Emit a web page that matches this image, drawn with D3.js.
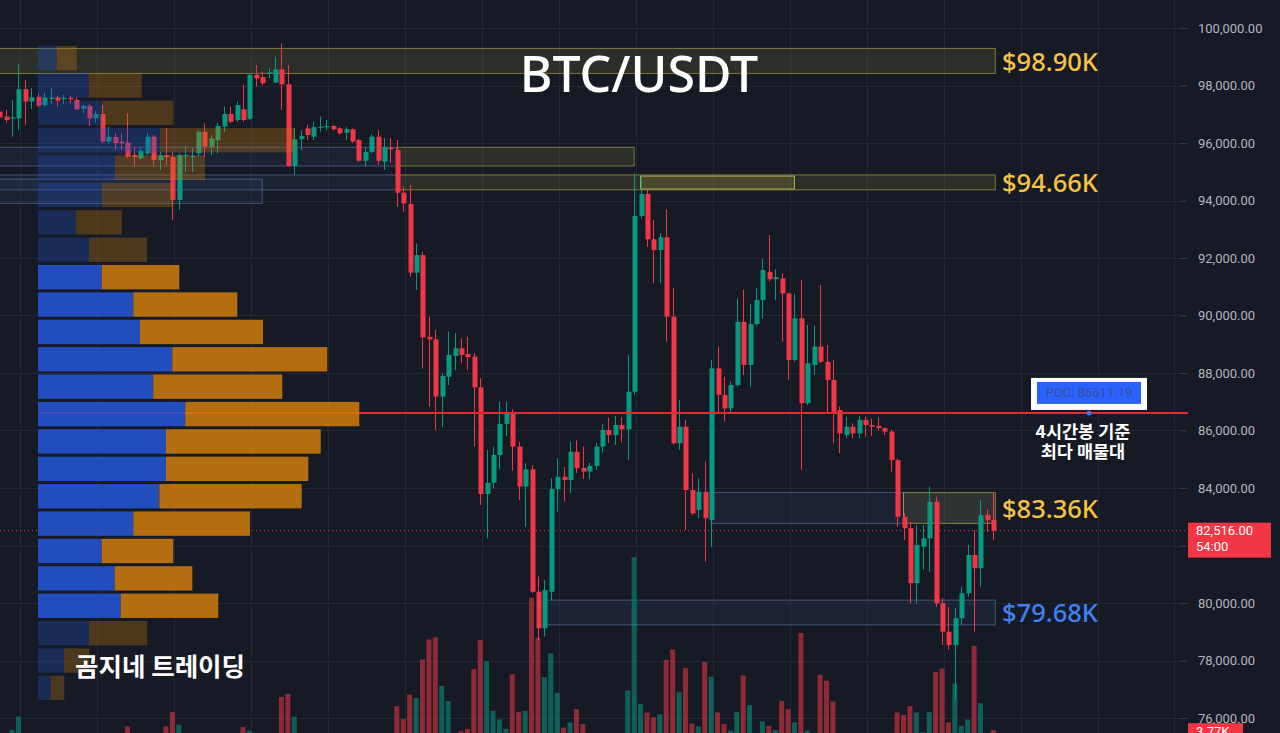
<!DOCTYPE html>
<html><head><meta charset="utf-8">
<script src="https://cdn.jsdelivr.net/npm/d3@7"></script>
<style>html,body{margin:0;padding:0;background:#161a25;overflow:hidden}</style>
</head><body><svg id="c" width="1280" height="733"></svg>
<script>
// ---------- DATA ----------
const opens=[97090,96920,96860,96860,97870,97440,97610,97320,97530,97590,97520,97570,97500,97190,97290,96860,97010,96050,96210,96050,96010,95580,95470,95640,96220,95410,95580,95510,94020,95550,95510,95640,96390,95870,96100,96570,97010,96800,97170,96840,98370,98290,98440,98100,98560,98040,95200,96130,96510,96220,96550,96570,96590,96510,96360,96480,96100,95380,95690,96220,95350,95840,95760,94270,93880,91490,92100,89260,89170,87180,87870,88590,88860,88660,88570,87500,83790,84180,85150,86230,86620,85440,84050,84650,80390,79120,80390,83960,84390,84280,85260,84700,84570,84770,85440,86020,85840,86190,86040,87350,93460,94230,92650,92280,92720,89960,85560,86130,83930,83240,83870,82890,88160,87240,86770,87580,89780,88280,89700,90540,91520,91260,91290,90770,88450,89900,86950,88280,88920,88390,87760,86710,85840,86130,85900,86370,86190,86160,86080,85960,84970,83000,82600,80690,81960,82250,83520,79990,79000,78540,79470,80340,81670,81210,83060,82890];
const highs=[97220,97150,97500,98750,98190,97910,97740,97740,97910,97640,97670,97640,97590,97320,97360,97120,97320,96570,96340,96340,97030,95870,95870,96340,96280,95700,96510,95700,95640,95900,95820,96450,96690,96280,96690,97260,97260,97440,98020,98420,98710,98480,98600,99000,99470,98710,96510,96450,96630,96740,96920,96800,96630,96550,96550,96510,96160,95870,96300,96450,96170,96170,96100,94480,94540,92510,92220,89960,89500,87990,89440,89380,89210,89260,88690,87820,85320,85440,87000,87000,86740,85610,84860,84800,80920,80800,84350,85040,84730,85610,85670,85440,84870,85570,86220,86440,86500,86460,88630,94950,94830,94370,93320,92860,93690,90950,87060,86370,84510,84340,84920,88450,88920,87870,87700,90600,90890,90400,90950,91960,92800,91610,91470,90790,90750,91240,89670,89640,91060,88970,88450,86830,86480,86250,86500,86480,86420,86460,86110,86020,85030,83120,82830,82710,82710,84050,83700,80170,79870,79830,80570,82020,82540,83580,83240,83820];
const lows=[96800,96710,96220,96450,96630,97180,97250,97250,97360,97260,97360,97380,97150,97050,96590,96710,95990,95990,95760,95760,95470,95180,95410,95580,95180,95060,95240,93320,93670,95000,95000,95520,95520,95580,95640,96390,96690,96740,96740,96800,97960,98020,98250,98080,97150,95180,94890,95760,96100,96100,96390,96450,96430,96280,96100,96010,95350,95180,95640,95240,95060,95300,93780,93610,91350,90890,88160,86830,86020,86130,87580,88100,88340,88100,85440,83410,82250,83990,84650,85810,84600,83580,82650,80350,78710,78830,80100,83180,83520,83830,84520,84310,84310,84630,85230,85570,85500,85580,84970,87240,93380,92390,91120,91120,89090,85500,85320,82540,83060,82950,81440,81960,86600,86310,86650,87520,87930,87520,89640,89900,91180,90540,89090,87760,88390,84630,86890,87930,88340,86600,85560,85210,85730,85730,85730,85780,85810,85990,85840,84570,82650,82190,79990,79990,81150,81090,79870,78540,78370,76630,79240,80220,79000,80570,82480,82190];
const closes=[96890,96800,96890,97870,97440,97590,97300,97580,97580,97470,97570,97520,97170,97290,96860,97010,96050,96210,95990,95990,95520,95510,95730,96220,95410,95580,95510,94020,95580,95580,95550,96390,95870,96160,96590,97010,96740,97320,96800,98370,98250,98080,98460,98560,98040,95200,96130,96240,96280,96550,96570,96590,96480,96340,96480,96050,95380,95690,96220,95380,95870,95780,94270,93900,91490,92100,89240,89170,87180,87900,88630,88860,88630,88550,87500,83790,84180,85150,86230,86620,85440,84050,84650,80390,79120,80450,83960,84390,84280,85260,84690,84570,84770,85440,86020,85840,86190,86040,87350,93460,94230,92650,92280,92720,89960,85560,86130,83930,83120,83870,82950,88160,87240,86770,87580,89780,88280,89700,90540,91580,91260,91330,90770,88450,89900,86950,88340,88920,88390,87760,86650,85900,86130,85900,86370,86190,86130,86080,85960,84970,83000,82600,80690,82020,82250,83520,79990,79000,78540,79470,80340,81670,81210,83060,82890,82516];
// volume in K BTC
const volumes=[2.8,2.6,3.8,6.1,3.1,2.4,2.3,2.2,2.5,2.1,2.0,2.2,2.6,2.3,3.0,2.5,3.2,2.6,2.8,2.5,4.4,3.0,2.7,3.1,3.2,2.9,4.4,6.9,4.7,2.8,2.6,3.0,3.1,2.7,2.9,3.2,2.6,3.0,4.3,3.7,3.0,2.7,2.5,3.2,9.5,10.0,6.1,3.2,2.8,2.6,2.4,2.2,2.1,2.3,2.2,2.8,3.2,3.0,2.9,3.2,3.0,2.6,7.9,5.7,9.9,9.3,16.0,19.4,19.8,11.4,8.8,3.0,3.6,4.0,14.3,19.3,15.7,7.1,5.6,4.0,13.4,6.9,7.1,26.6,19.7,12.9,17.0,10.2,4.2,5.1,7.4,4.8,3.1,2.9,3.2,2.8,3.0,2.6,10.6,33.6,8.3,6.8,6.0,6.5,15.9,17.7,10.3,14.5,4.9,4.4,15.5,13.0,6.8,4.8,3.7,6.9,13.2,8.1,3.2,5.3,4.5,3.8,8.8,7.4,5.1,20.5,3.7,3.3,13.3,12.3,8.7,3.2,2.6,2.4,2.7,2.3,2.1,2.2,2.5,3.3,6.8,6.4,7.9,6.8,3.4,6.9,13.8,14.4,5.1,11.8,4.5,5.6,18.3,8.4,3.0,3.77];
// volume profile rows, from the top (highest price) down
const vpBuy=[1.87,5.07,6.37,12.2,7.7,6.37,3.8,5.1,6.37,9.53,10.2,13.43,11.53,14.73,12.8,12.8,12.13,9.53,6.37,7.67,8.27,5.1,2.6,1.27];
const vpSell=[2.0,5.3,7.16,13.5,9.0,7.16,4.6,5.8,7.76,10.4,12.3,15.5,12.9,17.4,15.47,14.23,14.24,11.67,7.16,7.76,9.76,5.83,2.53,1.36];
const vpTop=99430, vpBottom=76570, vaFirst=8, vaLast=20;
const pocPrice=86611.19;
const lastPrice=82516;
const priceTicks=[76000,78000,80000,82000,84000,86000,88000,90000,92000,94000,96000,98000,100000];
// zones: candle index range and price range
const zoneFrom=[-1,-1,62,-1,62,-1,100,111,141,85];
const zoneTo=[155,62,99,62,155,41,124,141,155,155];
const zoneHi=[99290,95850,95850,94890,94890,94740,94850,83840,83840,80100];
const zoneLo=[98420,95200,95200,94370,94370,93900,94400,82770,82770,79240];
const zoneKind=["y","b","y","b","y","b","y2","b","g","b"];
const levelLabels=["$98.90K","$94.66K","$83.36K","$79.68K"];
const levelPrices=[98855,94630,83305,79670];
const levelKinds=["y","y","y","b"];

// ---------- CHART ----------
const W=1280,H=733,plotRight=1188;
const svg=d3.select('#c');
svg.append('rect').attr('width',W).attr('height',H).attr('fill','#161a25');
const y=d3.scaleLinear().domain([76000,100000]).range([718,28]);
const x=d3.scaleLinear().domain([0,155]).range([-0.8,993.3]);
const yVol=d3.scaleLinear().domain([0,40]).range([752,520]);
const green='#089981', red='#f23645';

// grid
const grid=svg.append('g');
grid.selectAll('line.h').data(priceTicks).join('line')
  .attr('x1',0).attr('x2',plotRight).attr('y1',d=>Math.round(y(d))+0.5).attr('y2',d=>Math.round(y(d))+0.5)
  .attr('stroke','#232734').attr('stroke-width',1);
grid.selectAll('line.v').data(d3.range(3.25,185,12)).join('line')
  .attr('y1',0).attr('y2',H).attr('x1',d=>Math.round(x(d))+0.5).attr('x2',d=>Math.round(x(d))+0.5)
  .attr('stroke','#232734').attr('stroke-width',1);

// zones
const zoneStyle={
  y:{fill:'rgba(190,185,70,0.13)',stroke:'rgba(200,190,80,0.55)'},
  y2:{fill:'rgba(200,190,60,0.18)',stroke:'rgba(220,205,80,0.75)'},
  b:{fill:'rgba(70,110,180,0.10)',stroke:'rgba(120,150,200,0.45)'},
  g:{fill:'rgba(110,110,90,0.30)',stroke:'rgba(200,190,80,0.6)'}
};
const zones=zoneFrom.map((f,k)=>({f,t:zoneTo[k],hi:zoneHi[k],lo:zoneLo[k],kind:zoneKind[k]}));
svg.append('g').selectAll('rect').data(zones).join('rect')
  .attr('x',d=>d.f<0?-2:x(d.f)).attr('width',d=>x(d.t)+(d.t===155?2:0)-(d.f<0?-2:x(d.f)))
  .attr('y',d=>y(d.hi)).attr('height',d=>y(d.lo)-y(d.hi))
  .attr('fill',d=>zoneStyle[d.kind].fill).attr('stroke',d=>zoneStyle[d.kind].stroke).attr('stroke-width',1);

// volume bars
const data=opens.map((o,i)=>({i,o,h:highs[i],l:lows[i],c:closes[i],v:volumes[i]}));
svg.append('g').selectAll('rect').data(data).join('rect')
  .attr('x',d=>x(d.i)-2.5).attr('width',5)
  .attr('y',d=>yVol(d.v)).attr('height',d=>yVol(0)-yVol(d.v))
  .attr('fill',d=>d.c>=d.o?'rgba(8,153,129,0.55)':'rgba(242,54,69,0.55)');

// last price dotted line
svg.append('line').attr('x1',0).attr('x2',plotRight).attr('y1',y(lastPrice)).attr('y2',y(lastPrice))
  .attr('stroke',red).attr('stroke-width',1).attr('stroke-dasharray','1,3');

// candles
const cg=svg.append('g');
cg.selectAll('line').data(data).join('line')
  .attr('x1',d=>Math.round(x(d.i))+0.5).attr('x2',d=>Math.round(x(d.i))+0.5)
  .attr('y1',d=>y(d.h)).attr('y2',d=>y(d.l))
  .attr('stroke',d=>d.c>=d.o?green:red).attr('stroke-width',1);
cg.selectAll('rect').data(data).join('rect')
  .attr('x',d=>Math.round(x(d.i))-1.5).attr('width',5)
  .attr('y',d=>Math.min(y(d.o),y(d.c))).attr('height',d=>Math.max(1.2,Math.abs(y(d.o)-y(d.c))))
  .attr('fill',d=>d.c>=d.o?green:red);

// POC line
svg.append('line').attr('x1',38).attr('x2',plotRight).attr('y1',y(pocPrice)).attr('y2',y(pocPrice))
  .attr('stroke','#f0262f').attr('stroke-width',2);

// volume profile
const vpStep=(vpTop-vpBottom)/vpBuy.length;
const vpTot=vpBuy.map((b,k)=>b+vpSell[k]);
const xVP=d3.scaleLinear().domain([0,d3.max(vpTot)]).range([0,321.3]);
const vp=vpBuy.map((b,k)=>({k,b,s:vpSell[k],top:vpTop-k*vpStep,bot:vpTop-(k+1)*vpStep,va:k>=vaFirst&&k<=vaLast}));
const vg=svg.append('g');
vg.selectAll('rect.b').data(vp).join('rect')
  .attr('x',38).attr('width',d=>xVP(d.b))
  .attr('y',d=>y(d.top)+1.5).attr('height',d=>y(d.bot)-y(d.top)-3)
  .attr('fill','#2454d2').attr('opacity',d=>d.va?0.88:0.3);
vg.selectAll('rect.s').data(vp).join('rect')
  .attr('x',d=>38+xVP(d.b)).attr('width',d=>xVP(d.s))
  .attr('y',d=>y(d.top)+1.5).attr('height',d=>y(d.bot)-y(d.top)-3)
  .attr('fill','#cc7a0c').attr('opacity',d=>d.va?0.88:0.3);

// price axis
const axis=svg.append('g').attr('transform','translate(1181,0)')
  .call(d3.axisRight(y).tickValues(priceTicks).tickFormat(d3.format(',.2f')).tickSize(5).tickPadding(12));
axis.select('.domain').remove();
axis.selectAll('line').attr('stroke','#3a3e4a');
axis.selectAll('text').attr('fill','#b2b5be').style('font-family','Roboto, Inter, sans-serif').style('font-size','13px');

// last price label
svg.append('rect').attr('x',1188).attr('y',y(lastPrice)-8).attr('width',83).attr('height',35).attr('fill',red);
svg.append('text').attr('x',1196).attr('y',y(lastPrice)+1).attr('dominant-baseline','middle')
  .attr('fill','#fff').style('font','13px Roboto, sans-serif').text(d3.format(',.2f')(lastPrice));
svg.append('text').attr('x',1196).attr('y',y(lastPrice)+17).attr('dominant-baseline','middle')
  .attr('fill','#fff').style('font','13px Roboto, sans-serif').text('54:00');
// volume label
svg.append('rect').attr('x',1188).attr('y',yVol(volumes[155])-7).attr('width',55).attr('height',18).attr('fill',red);
svg.append('text').attr('x',1196).attr('y',yVol(volumes[155])+2).attr('dominant-baseline','middle')
  .attr('fill','#fff').style('font','13px Roboto, sans-serif').text(d3.format('.2f')(volumes[155])+'K');

// level labels
svg.append('g').selectAll('text').data(levelLabels).join('text')
  .attr('x',1002).attr('y',(d,k)=>y(levelPrices[k])).attr('dominant-baseline','central')
  .attr('fill',(d,k)=>levelKinds[k]==='y'?'#f6c343':'#3f80f5')
  .style('font-family','"Noto Sans", sans-serif').style('font-size','25.5px').style('font-weight','500')
  .text(d=>d);

// POC box
const pocY=y(pocPrice);
svg.append('rect').attr('x',1031).attr('y',pocY-35).attr('width',116).attr('height',32).attr('fill','#ffffff');
svg.append('rect').attr('x',1037).attr('y',pocY-31).attr('width',104).attr('height',22).attr('fill','#2962ff');
svg.append('text').attr('x',1089).attr('y',pocY-20).attr('text-anchor','middle').attr('dominant-baseline','central')
  .attr('fill','#3b4d94').style('font','13px Roboto, sans-serif').text('POC: '+pocPrice.toFixed(2));
svg.append('circle').attr('cx',1089).attr('cy',pocY).attr('r',2.5).attr('fill','#4a6cf7');
svg.append('text').attr('x',1083).attr('y',pocY+18).attr('text-anchor','middle').attr('dominant-baseline','central')
  .attr('fill','#fff').style('font-family','"Noto Sans CJK KR", sans-serif').style('font-size','17.5px').style('font-weight','700').text('4시간봉 기준');
svg.append('text').attr('x',1083).attr('y',pocY+38).attr('text-anchor','middle').attr('dominant-baseline','central')
  .attr('fill','#fff').style('font-family','"Noto Sans CJK KR", sans-serif').style('font-size','17.5px').style('font-weight','700').text('최다 매물대');

// title & watermark
svg.append('text').attr('x',639).attr('y',92).attr('text-anchor','middle').attr('fill','#fff')
  .style('font-family','"Noto Sans", sans-serif').style('font-size','50px').style('font-weight','500').text('BTC/USDT');
svg.append('text').attr('x',75).attr('y',664).attr('dominant-baseline','central').attr('fill','#fff')
  .style('font-family','"Noto Sans CJK KR", sans-serif').style('font-size','25.5px').style('font-weight','700').text('곰지네 트레이딩');
</script></body></html>
